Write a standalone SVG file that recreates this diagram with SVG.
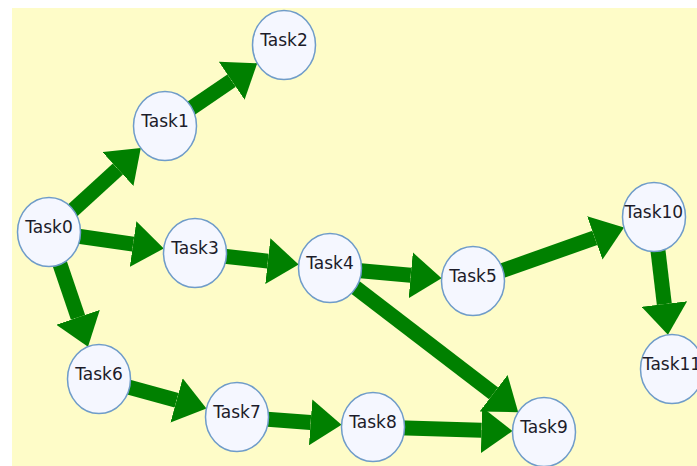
<svg xmlns="http://www.w3.org/2000/svg" width="697" height="466" viewBox="0 0 697 466">
<style>
.edge{stroke:#008000;stroke-width:15;fill:none;marker-end:url(#arr)}
.node ellipse{fill:#f5f7ff;stroke:#6f9cc9;stroke-width:1.5}
.node text{font-family:"DejaVu Sans",Verdana,sans-serif;font-size:17px;fill:#1c1c2a;text-anchor:middle}
</style>
<defs>
<marker id="arr" markerUnits="userSpaceOnUse" viewBox="0 -23 31 46" refX="0" refY="0" markerWidth="31" markerHeight="46" orient="auto">
<path d="M0,-23 L31,0 L0,23 Z" fill="#008000"/>
</marker>
</defs>
<rect x="12" y="8" width="685" height="458" fill="#fefcc8"/>
<g id="connectors">
<line class="edge" x1="49" y1="232" x2="117.92" y2="169.01"/>
<line class="edge" x1="165" y1="126" x2="231.62" y2="80.65"/>
<line class="edge" x1="49" y1="232" x2="133.09" y2="244.10"/>
<line class="edge" x1="195" y1="253" x2="267.85" y2="261.10"/>
<line class="edge" x1="330" y1="268" x2="410.73" y2="275.34"/>
<line class="edge" x1="473" y1="281" x2="594.81" y2="237.93"/>
<line class="edge" x1="654" y1="217" x2="664.30" y2="304.01"/>
<line class="edge" x1="330" y1="268" x2="493.59" y2="393.36"/>
<line class="edge" x1="49" y1="232" x2="78.02" y2="317.32"/>
<line class="edge" x1="99" y1="379" x2="176.57" y2="400.35"/>
<line class="edge" x1="237" y1="417" x2="310.65" y2="422.42"/>
<line class="edge" x1="373" y1="427" x2="481.51" y2="430.17"/>
</g>
<g id="Task0" class="node"><ellipse cx="49" cy="232" rx="31.5" ry="34.5"/><text x="49" y="233">Task0</text></g>
<g id="Task1" class="node"><ellipse cx="165" cy="126" rx="31.5" ry="34.5"/><text x="165" y="127">Task1</text></g>
<g id="Task2" class="node"><ellipse cx="284" cy="45" rx="31.5" ry="34.5"/><text x="284" y="46">Task2</text></g>
<g id="Task3" class="node"><ellipse cx="195" cy="253" rx="31.5" ry="34.5"/><text x="195" y="254">Task3</text></g>
<g id="Task4" class="node"><ellipse cx="330" cy="268" rx="31.5" ry="34.5"/><text x="330" y="269">Task4</text></g>
<g id="Task5" class="node"><ellipse cx="473" cy="281" rx="31.5" ry="34.5"/><text x="473" y="282">Task5</text></g>
<g id="Task6" class="node"><ellipse cx="99" cy="379" rx="31.5" ry="34.5"/><text x="99" y="380">Task6</text></g>
<g id="Task7" class="node"><ellipse cx="237" cy="417" rx="31.5" ry="34.5"/><text x="237" y="418">Task7</text></g>
<g id="Task8" class="node"><ellipse cx="373" cy="427" rx="31.5" ry="34.5"/><text x="373" y="428">Task8</text></g>
<g id="Task9" class="node"><ellipse cx="544" cy="432" rx="31.5" ry="34.5"/><text x="544" y="433">Task9</text></g>
<g id="Task10" class="node"><ellipse cx="654" cy="217" rx="31.5" ry="34.5"/><text x="654" y="218">Task10</text></g>
<g id="Task11" class="node"><ellipse cx="672" cy="369" rx="31.5" ry="34.5"/><text x="672" y="370">Task11</text></g>
</svg>
